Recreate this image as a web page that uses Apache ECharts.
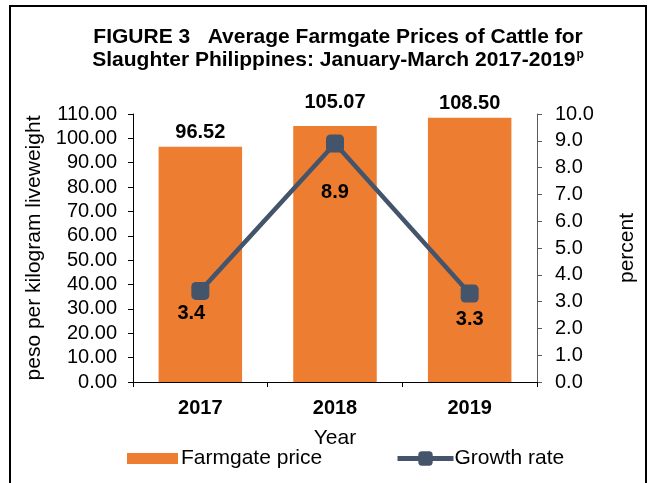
<!DOCTYPE html>
<html><head><meta charset="utf-8">
<script src="https://cdn.jsdelivr.net/npm/echarts@6/dist/echarts.min.js"></script>
<style>html,body{margin:0;padding:0;background:#fff}#c{width:650px;height:483px}</style>
</head><body><div id="c"></div>
<script>
const years = ['2017', '2018', '2019'];
const prices = [96.52, 105.07, 108.50];
const growth = [3.4, 8.9, 3.3];
const FONT = '"Liberation Sans", Arial, sans-serif';

const chart = echarts.init(document.getElementById('c'));
chart.setOption({
  animation: false,
  textStyle: { fontFamily: FONT },
  graphic: [{
    type: 'rect', shape: { x: 10, y: 6, width: 636, height: 500 },
    style: { fill: 'none', stroke: '#000', lineWidth: 2 }, z: 100
  }],
  title: {
    text: '{t|FIGURE 3   Average Farmgate Prices of Cattle for}\n{t|Slaughter Philippines: January-March 2017-2019}{s|p}',
    left: 333, top: 21, textAlign: 'center',
    textStyle: {
      rich: {
        t: { fontFamily: FONT, fontWeight: 'bold', fontSize: 21, color: '#000', lineHeight: 23 },
        s: { fontFamily: FONT, fontWeight: 'bold', fontSize: 12, color: '#000', verticalAlign: 'top', lineHeight: 23, padding: [0,0,8,1] }
      }
    }
  },
  legend: [{
    left: 122, top: 443, itemWidth: 51, itemHeight: 11,
    textStyle: { fontFamily: FONT, fontSize: 21, color: '#000', padding: [0,0,0,-2] },
    data: [{ name: 'Farmgate price', icon: 'rect' }]
  }, {
    left: 390, top: 443, itemWidth: 56, itemHeight: 18,
    textStyle: { fontFamily: FONT, fontSize: 21, color: '#000', padding: [0,0,0,-4] },
    data: [{ name: 'Growth rate', lineStyle: { width: 5 } }]
  }],
  grid: { left: 133, right: 113, top: 114, bottom: 101 },
  xAxis: {
    type: 'category', data: years,
    name: 'Year', nameLocation: 'middle', nameGap: 46,
    nameTextStyle: { fontFamily: FONT, fontSize: 21, color: '#000' },
    axisLine: { lineStyle: { color: '#000', width: 1 } },
    axisTick: { show: true, length: 5, inside: false, lineStyle: { color: '#000' } },
    axisLabel: { fontFamily: FONT, fontSize: 20, fontWeight: 'bold', color: '#000', margin: 16 }
  },
  yAxis: [{
    type: 'value', min: 0, max: 110, interval: 10,
    name: 'peso per kilogram liveweight', nameLocation: 'middle', nameGap: 88, nameRotate: 90,
    nameTextStyle: { fontFamily: FONT, fontSize: 21, color: '#000' },
    axisLine: { show: true, lineStyle: { color: '#000' } },
    axisTick: { show: true, length: 5, lineStyle: { color: '#000' } },
    splitLine: { show: false },
    axisLabel: { fontFamily: FONT, fontSize: 20, color: '#000', margin: 16,
      formatter: v => v.toFixed(2) }
  }, {
    type: 'value', min: 0, max: 10, interval: 1, position: 'right',
    name: 'percent', nameLocation: 'middle', nameGap: 80, nameRotate: 90,
    nameTextStyle: { fontFamily: FONT, fontSize: 21, color: '#000' },
    axisLine: { show: true, lineStyle: { color: '#595959' } },
    axisTick: { show: true, length: 5, lineStyle: { color: '#595959' } },
    splitLine: { show: false },
    axisLabel: { fontFamily: FONT, fontSize: 20, color: '#000', margin: 18,
      formatter: v => v.toFixed(1) }
  }],
  series: [{
    name: 'Farmgate price', type: 'bar', data: prices, yAxisIndex: 0,
    barCategoryGap: '38%',
    itemStyle: { color: '#ED7D31' },
    label: { show: true, position: 'top', distance: 5, fontFamily: FONT, fontSize: 20,
      fontWeight: 'bold', color: '#000', formatter: p => p.value.toFixed(2) },
    labelLayout: function (p) {
      if (p.dataIndex === 1) return { dy: -9 };
      return { dy: 1 };
    }
  }, {
    name: 'Growth rate', type: 'line', data: growth, yAxisIndex: 1,
    symbol: 'roundRect', symbolSize: 18,
    lineStyle: { color: '#44546A', width: 4.5 },
    itemStyle: { color: '#44546A' },
    label: { show: true, position: 'bottom', distance: 4, fontFamily: FONT, fontSize: 20,
      fontWeight: 'bold', color: '#000', formatter: p => p.value.toFixed(1) },
    labelLayout: function (p) {
      if (p.dataIndex === 0) return { dx: -9, dy: 0 };
      if (p.dataIndex === 1) return { dy: 26 };
      return { dy: 3 };
    }
  }]
});
</script></body></html>
